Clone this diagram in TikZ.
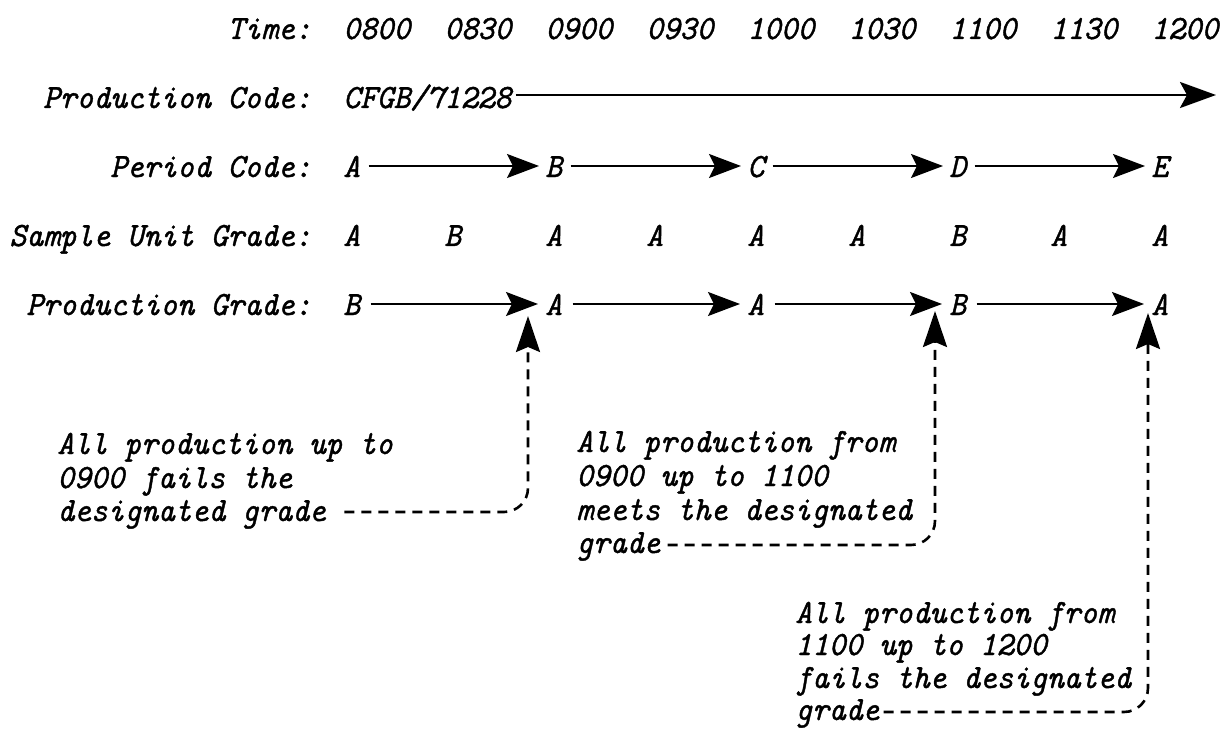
\documentclass[tikz,border=0pt]{standalone}
\usepackage{fontspec}
\newfontface\twfont{lmmono10-italic.otf}[FakeBold=1.2, FakeStretch=0.94]
\usetikzlibrary{arrows.meta,calc}
\begin{document}
\begin{tikzpicture}[x=0.5pt,y=-0.5pt,
  every node/.style={font=\fontsize{17pt}{17.8pt}\selectfont\twfont, inner sep=0pt},
  lbl/.style={anchor=base east},
  cell/.style={anchor=base west},
  note/.style={anchor=base west},
  flow/.style={-{Stealth[length=16pt,width=12pt,inset=3pt]}, line width=1pt},
  lead/.style={-{Stealth[length=18pt,width=12pt,inset=2.5pt]}, line width=1.3pt,
               dash pattern=on 5pt off 3.5pt, rounded corners=12pt}]
\useasboundingbox (0,0) rectangle (1228,733);

% row labels
\node[lbl] (lt) at (312,39)  {Time:};
\node[lbl] (lp) at (312,108) {Production Code:};
\node[lbl] (lc) at (312,177) {Period Code:};
\node[lbl] (ls) at (312,246) {Sample Unit Grade:};
\node[lbl] (lg) at (312,315) {Production Grade:};

% time row
\foreach \t [count=\i from 0] in {0800,0830,0900,0930,1000,1030,1100,1130,1200}
  \node[cell] (time\i) at (343+101*\i,39) {\t};

% production code
\node[cell] (pc) at (343,108) {CFGB/71228};
\coordinate (pcend) at (1216,95);
\draw[-{Stealth[length=18pt,width=13pt,inset=3.5pt]}, line width=1.4pt]
  ($(pc.base east)+(4,-13)$) -- (pcend);

% period code
\foreach \g/\i in {A/0,B/2,C/4,D/6,E/8}
  \node[cell] (pd\i) at (343+101*\i,177) {\g};
\foreach \a/\b in {0/2,2/4,4/6,6/8}
  \draw[flow] ($(pd\a.base east)+(8,-11)$) -- ($(pd\b.base west)+(-6,-11)$);

% sample unit grade
\foreach \g [count=\i from 0] in {A,B,A,A,A,A,B,A,A}
  \node[cell] (sg\i) at (343+101*\i,246) {\g};

% production grade
\foreach \g/\i in {B/0,A/2,A/4,B/6,A/8}
  \node[cell] (pg\i) at (343+101*\i,315) {\g};
\foreach \a/\b in {0/2,2/4,4/6,6/8}
  \draw[flow] ($(pg\a.base east)+(10,-11)$) -- ($(pg\b.base west)+(-7,-11)$);

% annotation 1
\node[note] (n1a) at (57,454) {All production up to};
\node[note] (n1b) at (57,488) {0900 fails the};
\node[note] (n1c) at (57,521) {designated grade};
% annotation 2
\node[note] (n2a) at (576,452) {All production from};
\node[note] (n2b) at (576,486) {0900 up to 1100};
\node[note] (n2c) at (576,520) {meets the designated};
\node[note] (n2d) at (576,553) {grade};
% annotation 3
\node[note] (n3a) at (795,623) {All production from};
\node[note] (n3b) at (795,655) {1100 up to 1200};
\node[note] (n3c) at (795,688) {fails the designated};
\node[note] (n3d) at (795,720) {grade};

% leader arrows
\coordinate (tip1) at (528,316);
\coordinate (tip2) at (935,311);
\coordinate (tip3) at (1148,313);
\draw[lead] ($(n1c.base east)+(18,-9)$) -| (tip1);
\draw[lead] ($(n2d.base east)+(7,-8)$) -| (tip2);
\draw[lead] ($(n3d.base east)+(4,-8)$) -| (tip3);
\end{tikzpicture}
\end{document}
